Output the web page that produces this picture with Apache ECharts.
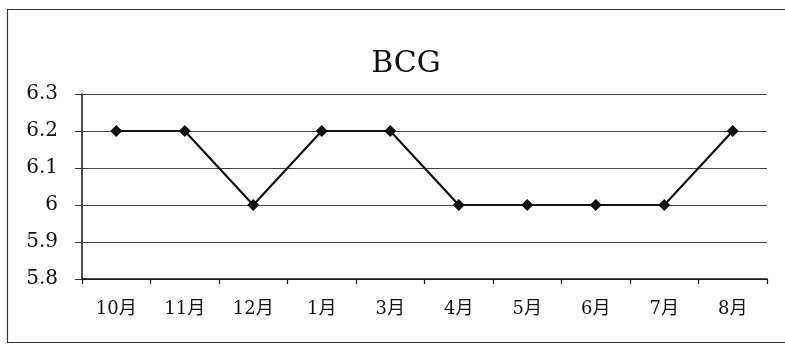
<!DOCTYPE html>
<html>
<head>
<meta charset="utf-8">
<script src="https://cdn.jsdelivr.net/npm/echarts@6/dist/echarts.min.js"></script>
<style>
  html, body { margin: 0; padding: 0; background: #fff; }
  #chart { width: 785px; height: 345px; }
</style>
</head>
<body>
<div id="chart"></div>
<script>
// Monthly BCG readings
const months = ['10月', '11月', '12月', '1月', '3月', '4月', '5月', '6月', '7月', '8月'];
const bcgValues = [6.2, 6.2, 6.0, 6.2, 6.2, 6.0, 6.0, 6.0, 6.0, 6.2];
const yTicks = { min: 5.8, max: 6.3, step: 0.1 };

const serif = '"DejaVu Serif", "Liberation Serif", "Noto Sans CJK JP", serif';

const chart = echarts.init(document.getElementById('chart'), null, { renderer: 'canvas' });
chart.setOption({
  backgroundColor: '#ffffff',
  animation: false,
  title: {
    text: 'BCG',
    left: 401,
    top: 44,
    textAlign: 'center',
    textStyle: { fontFamily: serif, fontSize: 30, fontWeight: 'normal', color: '#111' }
  },
  graphic: [{
    type: 'rect',
    shape: { x: 7.5, y: 9.5, width: 800, height: 333 },
    style: { fill: 'none', stroke: '#333', lineWidth: 1.2 },
    silent: true
  }],
  grid: { left: 82, right: 18, top: 94, bottom: 66 },
  xAxis: {
    type: 'category',
    data: months,
    boundaryGap: true,
    axisLine: { show: true, lineStyle: { color: '#111', width: 1.5 } },
    axisTick: { show: true, length: 5, inside: false, lineStyle: { color: '#111', width: 1.2 } },
    axisLabel: { fontFamily: serif, fontSize: 18, color: '#111', margin: 21 },
    splitLine: { show: false }
  },
  yAxis: {
    type: 'value',
    min: yTicks.min,
    max: yTicks.max,
    interval: yTicks.step,
    axisLine: { show: true, lineStyle: { color: '#111', width: 1.5 } },
    axisTick: { show: true, length: 7, lineStyle: { color: '#333', width: 1 } },
    axisLabel: {
      fontFamily: serif, fontSize: 20, color: '#111', margin: 24,
      formatter: v => String(parseFloat(v.toFixed(1)))
    },
    splitLine: { show: true, lineStyle: { color: '#444', width: 1.2 } }
  },
  series: [{
    type: 'line',
    data: bcgValues,
    symbol: 'diamond',
    symbolSize: 12,
    itemStyle: { color: '#111' },
    lineStyle: { color: '#111', width: 2.2 }
  }]
});
</script>
</body>
</html>
